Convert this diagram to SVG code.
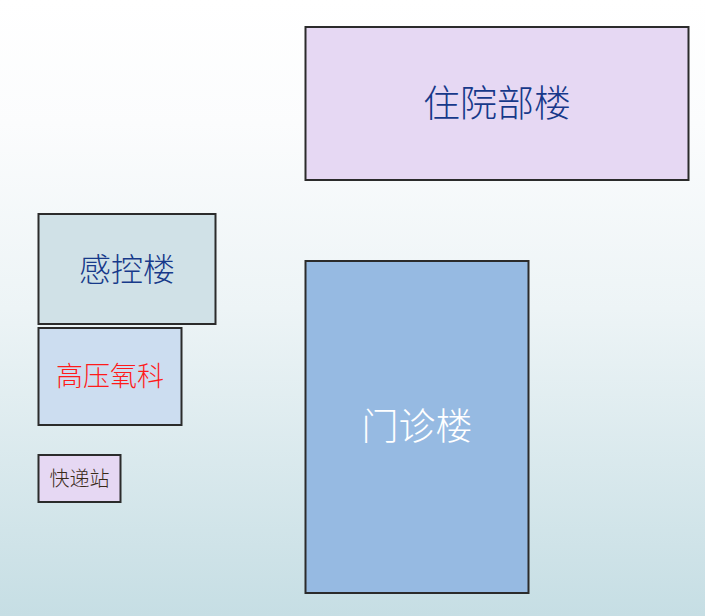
<svg xmlns="http://www.w3.org/2000/svg" width="705" height="616" viewBox="0 0 705 616">
  <defs>
    <linearGradient id="bg" x1="0" y1="0" x2="0" y2="1">
      <stop offset="0" stop-color="#FFFFFF"/>
      <stop offset="0.2" stop-color="#FBFCFD"/>
      <stop offset="0.5" stop-color="#EDF4F6"/>
      <stop offset="1" stop-color="#C6DEE4"/>
    </linearGradient>
  </defs>
  <style>
    .box { stroke: #2B2B2B; stroke-width: 2; }
    .lbl { font-family: "Noto Sans CJK SC", "Noto Sans", sans-serif; font-weight: 300; text-anchor: middle; dominant-baseline: central; }
  </style>
  <rect x="0" y="0" width="705" height="616" fill="url(#bg)"/>
  <g id="connectors"/>
  <g id="zhuyuanbulou">
    <rect class="box" x="305.5" y="27" width="383" height="153" fill="#E6D8F3"/>
    <text class="lbl" x="497" y="100.5" font-size="37" fill="#17398A">住院部楼</text>
  </g>
  <g id="gankonglou">
    <rect class="box" x="38.5" y="214" width="177" height="110" fill="#D0E1E7"/>
    <text class="lbl" x="127" y="266.5" font-size="32" fill="#17398A">感控楼</text>
  </g>
  <g id="gaoyayangke">
    <rect class="box" x="38.5" y="328" width="143" height="97" fill="#CCDDF0"/>
    <text class="lbl" x="110" y="374.5" font-size="27" fill="#FF1A1A">高压氧科</text>
  </g>
  <g id="kuaidizhan">
    <rect class="box" x="38.5" y="455" width="82" height="47" fill="#E6D8F3"/>
    <text class="lbl" x="79.5" y="477" font-size="20" fill="#3A2A18">快递站</text>
  </g>
  <g id="menzhenlou">
    <rect class="box" x="305.5" y="261" width="223" height="332" fill="#96BAE2"/>
    <text class="lbl" x="417" y="424" font-size="37" fill="#FFFFFF">门诊楼</text>
  </g>
</svg>
